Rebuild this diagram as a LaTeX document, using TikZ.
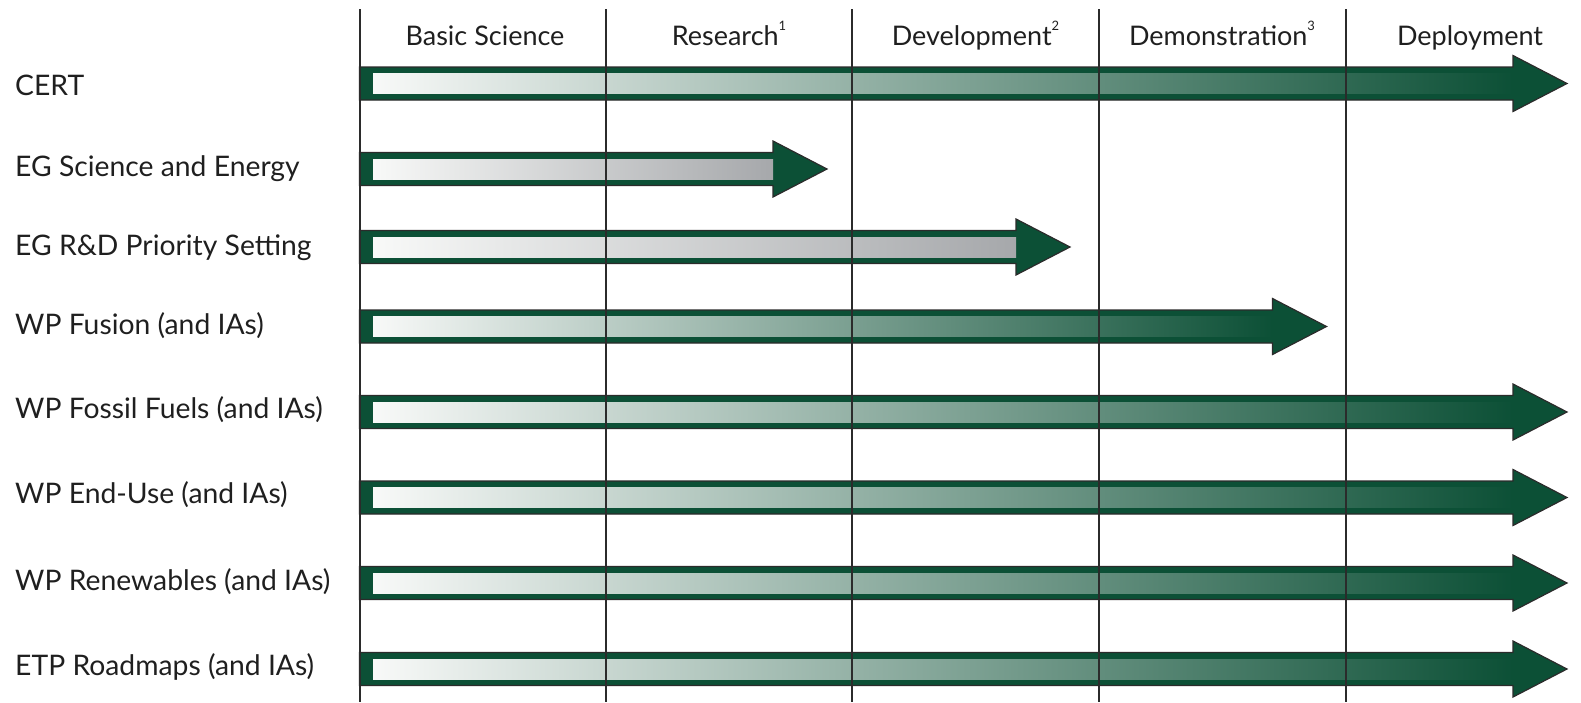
\documentclass[tikz,border=0pt]{standalone}
\usepackage{fontspec}
\setmainfont{Lato}
\usepackage{xcolor}
\usepackage{tikz}

\definecolor{stagegreen}{HTML}{0C5036}
\definecolor{stagemid}{HTML}{789A89}
\definecolor{stagegrey}{HTML}{A6A8AB}
\definecolor{bandwhite}{HTML}{F8F9F8}
\definecolor{rulegrey}{HTML}{2B2B2B}

\tikzset{
  arrowbody/.style={fill=stagegreen, draw=rulegrey, line width=1.2pt, line join=miter},
  greenband/.style={left color=bandwhite, middle color=stagemid, right color=stagegreen},
  greyband/.style={left color=bandwhite, right color=stagegrey},
  rowlabel/.style={anchor=base west, inner sep=0pt, font=\fontsize{28.3}{31}\selectfont, text=black!88},
  stagehead/.style={anchor=base, inner sep=0pt, font=\fontsize{27}{30}\selectfont, text=black!88},
  stagerule/.style={rulegrey, line width=2pt}
}

% small raised footnote mark in the headings
\newcommand{\stagenote}[1]{\raisebox{0.55em}{\fontsize{13}{14}\selectfont #1}}

% #1 row centre, #2 x of the arrow head base, #3 band style
\newcommand{\stagearrow}[3]{%
  \draw[arrowbody] (359.5,#1-16.5) -- (#2,#1-16.5) -- (#2,#1-28) -- (#2+54,#1)
    -- (#2,#1+28) -- (#2,#1+16.5) -- (359.5,#1+16.5) -- cycle;
  \shade[#3] (373,#1-10) rectangle (#2,#1+10);
}

\begin{document}
\begin{tikzpicture}[x=1pt, y=-1pt]
\useasboundingbox (0,0) rectangle (1581,702);

% arrows, one per row
\stagearrow{83.5}{1513}{greenband}
\stagearrow{169}{773}{greyband}
\stagearrow{247}{1016}{greyband}
\stagearrow{326.5}{1272.5}{greenband}
\stagearrow{412}{1513}{greenband}
\stagearrow{497.5}{1513}{greenband}
\stagearrow{583}{1513}{greenband}
\stagearrow{669}{1513}{greenband}

% stage boundaries
\coordinate (r0) at (359.5,9);
\coordinate (r1) at (606,9);
\coordinate (r2) at (852,9);
\coordinate (r3) at (1099,9);
\coordinate (r4) at (1345.5,9);
\draw[stagerule] (r0) -- (r0 |- 0,702);
\draw[stagerule] (r1) -- (r1 |- 0,702);
\draw[stagerule] (r2) -- (r2 |- 0,702);
\draw[stagerule] (r3) -- (r3 |- 0,702);
\draw[stagerule] (r4) -- (r4 |- 0,702);

% stage headings
\node[stagehead] (hd-basic) at (485,45) {Basic Science};
\node[stagehead] (hd-research) at (729,45) {Research\stagenote{1}};
\node[stagehead] (hd-dev) at (975.5,45) {Development\stagenote{2}};
\node[stagehead] (hd-demo) at (1222,45) {Demonstration\stagenote{3}};
\node[stagehead] (hd-deploy) at (1470,45) {Deployment};

% row labels
\node[rowlabel] (lbl-cert) at (15,95) {CERT};
\node[rowlabel] (lbl-egse) at (15,176.7) {EG Science and Energy};
\node[rowlabel] (lbl-egrd) at (15,255) {EG R\&D Priority Setting};
\node[rowlabel] (lbl-fusion) at (15,334.3) {WP Fusion (and IAs)};
\node[rowlabel] (lbl-fossil) at (15,418.3) {WP Fossil Fuels (and IAs)};
\node[rowlabel] (lbl-enduse) at (15,503) {WP End-Use (and IAs)};
\node[rowlabel] (lbl-renew) at (15,590) {WP Renewables (and IAs)};
\node[rowlabel] (lbl-etp) at (15,675.7) {ETP Roadmaps (and IAs)};
\end{tikzpicture}
\end{document}
